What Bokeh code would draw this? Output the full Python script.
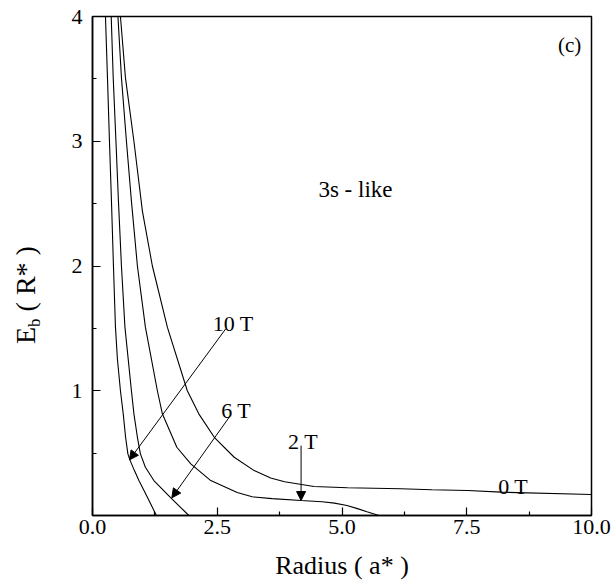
import math
from bokeh.plotting import figure
from bokeh.models import FixedTicker, Label, Arrow, NormalHead, Range1d, Div, InlineStyleSheet
from bokeh.layouts import row
from bokeh.embed import file_html
from bokeh.resources import INLINE

# ---- data ----
r_0T = [0.56, 0.66, 0.83, 1.0, 1.2, 1.5, 1.9, 2.13, 2.44, 2.84, 3.24, 3.57, 3.85, 4.44, 5.11, 6.18, 6.8, 7.52, 8.19, 10.0]
e_0T = [4.0, 3.51, 3.0, 2.44, 2.0, 1.51, 1.0, 0.815, 0.627, 0.467, 0.36, 0.3, 0.27, 0.232, 0.222, 0.214, 0.206, 0.20, 0.187, 0.168]

r_2T = [0.51, 0.58, 0.68, 0.78, 0.90, 1.06, 1.30, 1.40, 1.69, 1.97, 2.37, 2.9, 3.2, 3.6, 4.18, 4.6, 4.85, 5.1, 5.31, 5.5, 5.74]
e_2T = [4.0, 3.51, 3.0, 2.52, 2.0, 1.51, 1.0, 0.815, 0.547, 0.414, 0.28, 0.185, 0.15, 0.135, 0.12, 0.11, 0.099, 0.08, 0.055, 0.03, 0.0]

r_6T = [0.375, 0.415, 0.47, 0.52, 0.58, 0.65, 0.78, 0.83, 0.90, 0.96, 1.06, 1.23, 1.57, 1.93]
e_6T = [4.0, 3.51, 3.0, 2.52, 2.0, 1.51, 1.0, 0.815, 0.627, 0.494, 0.387, 0.28, 0.142, 0.0]

r_10T = [0.26, 0.30, 0.34, 0.38, 0.42, 0.46, 0.50, 0.56, 0.616, 0.663, 0.709, 0.749, 0.84, 0.93, 1.10, 1.28]
e_10T = [4.0, 3.51, 3.0, 2.52, 2.0, 1.51, 1.25, 1.0, 0.815, 0.627, 0.494, 0.446, 0.36, 0.28, 0.147, 0.0]

x_ticks = [0.0, 2.5, 5.0, 7.5, 10.0]
x_tick_labels = ["0.0", "2.5", "5.0", "7.5", "10.0"]
x_minor = [1.25, 3.75, 6.25, 8.75]
y_ticks = [1, 2, 3, 4]
y_tick_labels = ["1", "2", "3", "4"]
y_minor = [0.5, 1.5, 2.5, 3.5]

FONT = "Liberation Serif"
CSS_FONT = "'Liberation Serif', 'Times New Roman', serif"

css = InlineStyleSheet(css="svg text { font-family: %s !important; }" % CSS_FONT)

p = figure(width=571, height=585, output_backend="svg", toolbar_location=None,
           x_range=Range1d(0, 10), y_range=Range1d(0, 4),
           min_border_left=52, min_border_right=20, min_border_top=16, min_border_bottom=70,
           stylesheets=[css])
p.grid.visible = False
p.background_fill_color = "white"
p.border_fill_color = "white"
p.outline_line_color = "black"
p.outline_line_width = 1.5

for ax in (p.xaxis[0], p.yaxis[0]):
    ax.axis_line_color = "black"
    ax.axis_line_width = 1.5
    ax.major_tick_in = 8
    ax.major_tick_out = 0
    ax.minor_tick_in = 4
    ax.minor_tick_out = 0
    ax.major_tick_line_width = 1.2
    ax.minor_tick_line_width = 1.2
    ax.major_label_text_font = FONT
    ax.major_label_text_font_size = "22px"
    ax.major_label_text_color = "black"

p.xaxis.ticker = FixedTicker(ticks=x_ticks, minor_ticks=x_minor)
p.xaxis.major_label_overrides = {t: l for t, l in zip(x_ticks, x_tick_labels)}
p.xaxis.major_label_standoff = 4
p.xaxis.axis_label = "Radius ( a* )"
p.xaxis.axis_label_text_font = FONT
p.xaxis.axis_label_text_font_style = "normal"
p.xaxis.axis_label_text_font_size = "26px"
p.xaxis.axis_label_text_color = "black"
p.xaxis.axis_label_standoff = 14

p.yaxis.ticker = FixedTicker(ticks=y_ticks, minor_ticks=y_minor)
p.yaxis.major_label_overrides = {t: l for t, l in zip(y_ticks, y_tick_labels)}
p.yaxis.major_label_standoff = 10

for r, e in ((r_0T, e_0T), (r_2T, e_2T), (r_6T, e_6T), (r_10T, e_10T)):
    p.line(r, e, line_color="black", line_width=1.1)

# arrows
arrows = [((2.67, 1.496), (0.74, 0.446)),
          ((2.74, 0.788), (1.59, 0.142)),
          ((4.18, 0.56), (4.18, 0.12))]
for (x0, y0), (x1, y1) in arrows:
    p.add_layout(Arrow(end=NormalHead(size=9, fill_color="black", line_color="black", line_width=1),
                       x_start=x0, y_start=y0, x_end=x1, y_end=y1,
                       line_color="black", line_width=1))

labels = [("10 T", 2.82, 1.536, "22px"),
          ("6 T", 2.88, 0.841, "22px"),
          ("2 T", 4.22, 0.59, "22px"),
          ("0 T", 8.43, 0.232, "22px"),
          ("3s - like", 5.27, 2.61, "23px"),
          ("(c)", 9.56, 3.77, "21px")]
for txt, x, y, fs in labels:
    p.add_layout(Label(x=x, y=y, text=txt, text_font=FONT, text_font_size=fs,
                       text_align="center", text_baseline="alphabetic", text_color="black"))

# y-axis title (with subscript b), rotated, placed left of the figure
ylabel_html = (
    '<div style="position:relative;width:40px;height:585px;">'
    '<div style="position:absolute;left:12px;top:344px;transform:rotate(-90deg);'
    'transform-origin:0 0;white-space:nowrap;font-family:\'Liberation Serif\',\'Times New Roman\',serif;'
    'font-size:28px;line-height:28px;color:black;">'
    'E<sub style="font-size:17px;vertical-align:-0.3em;line-height:0;">b</sub>&nbsp;( R* )'
    '</div></div>'
)
ylab = Div(text=ylabel_html, width=40, height=585, margin=0)

layout = row(ylab, p, spacing=0)
open("out.html", "w").write(file_html(layout, INLINE))
